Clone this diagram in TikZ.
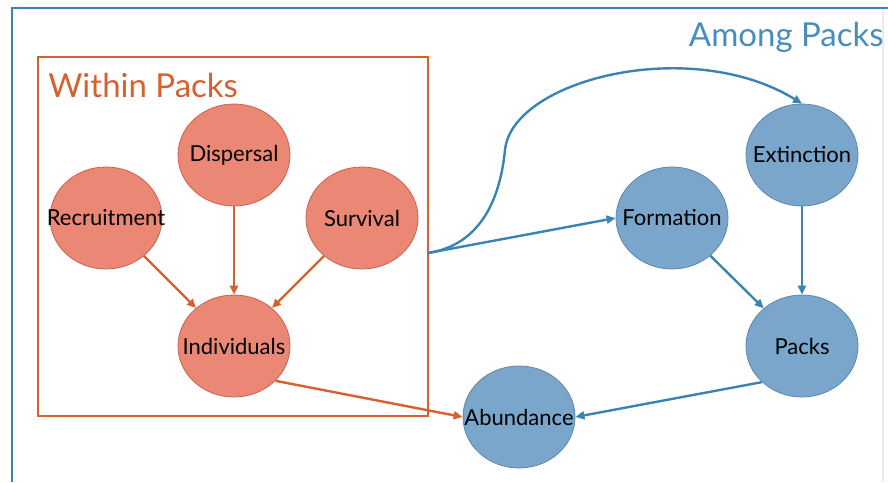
\documentclass[tikz,border=0pt]{standalone}
\usepackage{fontspec}
\setmainfont{Lato}
\usepackage{tikz}
\usetikzlibrary{shapes,arrows.meta}

\definecolor{packOrange}{RGB}{214,96,48}
\definecolor{packSalmon}{RGB}{234,135,117}
\definecolor{packSalmonEdge}{RGB}{200,98,78}
\definecolor{packBlue}{RGB}{58,132,180}
\definecolor{packBlueText}{RGB}{72,142,186}
\definecolor{packSky}{RGB}{122,166,204}
\definecolor{packSkyEdge}{RGB}{92,134,174}

\begin{document}
\begin{tikzpicture}[x=0.5pt, y=-0.5pt,
  within/.style={ellipse, draw=packSalmonEdge, fill=packSalmon, inner xsep=-12pt, inner ysep=0pt, minimum width=56pt, minimum height=51pt, font=\fontsize{11}{13}\selectfont},
  among/.style={within, draw=packSkyEdge, fill=packSky},
  line/.style={-{Triangle[length=4.5pt,width=4pt]}, line width=1.2pt, draw=packOrange},
  blueline/.style={line, draw=packBlue},
  title/.style={font=\fontsize{16.5}{20}\selectfont, inner sep=0}]

\useasboundingbox (0,0) rectangle (888,482);
\draw [packBlue, line width=1.3pt] (12,482) -- (12,8) -- (888,8);
\draw [black!8, line width=0.8pt] (883,9) -- (883,482);
\draw [packOrange, line width=1.4pt] (38,57) rectangle (428,416);

\node[title, text=packOrange,   anchor=west] (withinTitle) at (48,85)  {Within Packs};
\node[title, text=packBlueText, anchor=east] (amongTitle)  at (884,37) {Among Packs};

\node[within] (dispersal)   at (234,155) {Dispersal};
\node[within] (recruitment) at (106,218) {Recruitment};
\node[within] (survival)    at (362,218) {Survival};
\node[within] (individuals) at (234,346) {Individuals};

\node[among]  (formation)   at (672,218) {Formation};
\node[among]  (extinction)  at (802,155) {Extinction};
\node[among]  (packs)       at (802,346) {Packs};
\node[among]  (abundance)   at (519,417) {Abundance};

\coordinate (branch) at (428,253);

\draw [line] (recruitment) -- (individuals);
\draw [line] (dispersal)   -- (individuals);
\draw [line] (survival)    -- (individuals);
\draw [line] (individuals.-40) -- (abundance.west);

\draw [blueline] (branch) -- (formation.west);
\draw [blueline] (branch) .. controls (480,245) and (500,200) .. (505,150) .. controls (512,80) and (690,35) .. (extinction.north);
\draw [blueline] (formation)  -- (packs);
\draw [blueline] (extinction) -- (packs);
\draw [blueline] (packs.222)  -- (abundance.east);
\end{tikzpicture}
\end{document}
